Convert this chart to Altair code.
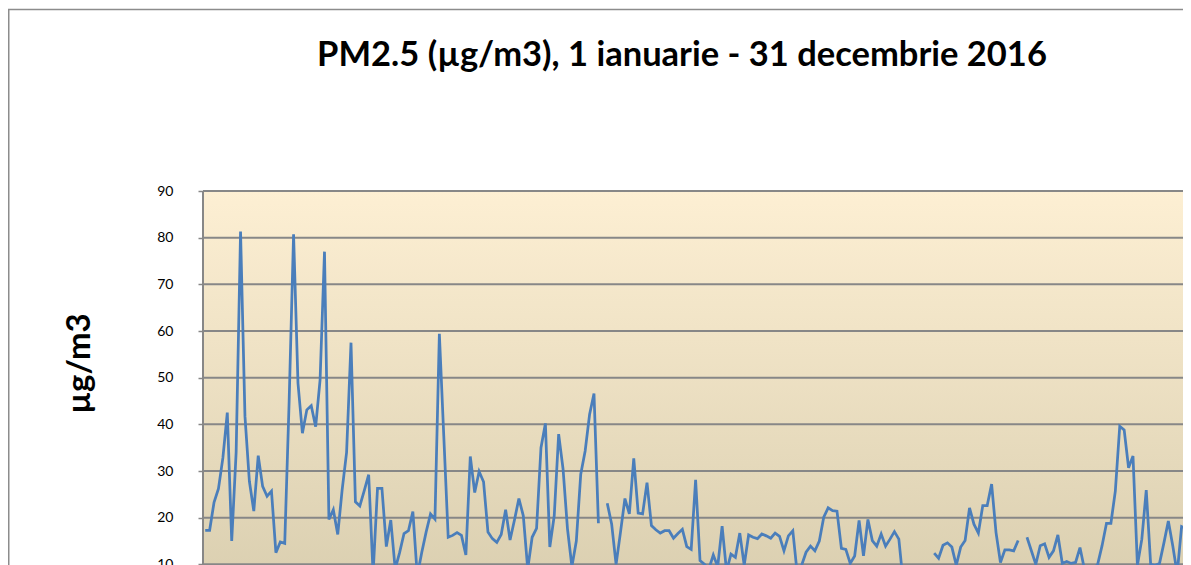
import altair as alt
import pandas as pd

# ---------------- data ----------------
title_text = "PM2.5 (µg/m3), 1 ianuarie - 31 decembrie 2016"
y_title = "µg/m3"
y_ticks = [0, 10, 20, 30, 40, 50, 60, 70, 80, 90]
n_days = 366  # 2016 is a leap year

# daily PM2.5 values from 1 January onward (only the visible part of the picture)
pm25 = [
    17.3, 17.3, 23.3, 26.2, 32.8, 42.5, 15.0, 34.0, 81.3, 41.7,
    27.8, 21.4, 33.3, 26.7, 24.6, 25.7, 12.5, 14.8, 14.5, 45.0,
    80.7, 48.8, 38.1, 43.1, 44.0, 39.5, 49.5, 77.0, 19.6, 21.7,
    16.4, 26.0, 34.0, 57.5, 23.4, 22.5, 25.8, 29.2, 8.0, 26.3,
    26.3, 13.8, 19.5, 9.0, 12.5, 16.6, 17.2, 21.3, 7.5, 12.5,
    16.9, 20.8, 19.7, 59.4, 37.5, 15.8, 16.2, 16.8, 16.2, 12.0,
    33.1, 25.4, 29.9, 27.7, 16.9, 15.5, 14.7, 16.4, 21.7, 15.2,
    19.5, 24.1, 20.4, 9.0, 15.8, 17.7, 35.0, 40.2, 13.7, 20.4,
    37.9, 30.4, 17.6, 9.5, 15.0, 29.3, 34.3, 42.1, 46.6, 18.8,
    None, 23.1, 18.6, 10.0, 16.9, 24.1, 20.8, 32.7, 21.0, 20.8,
    27.5, 18.3, 17.4, 16.7, 17.2, 17.2, 15.6, 16.6, 17.5, 13.8,
    13.2, 28.1, 10.8, 10.0, 9.0, 12.0, 9.5, 18.2, 8.5, 12.2,
    11.5, 16.7, 9.8, 16.3, 15.8, 15.5, 16.5, 16.1, 15.6, 16.7,
    16.0, 12.9, 16.1, 17.2, 8.0, 9.8, 12.6, 13.9, 12.9, 15.0,
    20.1, 22.1, 21.5, 21.4, 13.4, 13.2, 10.2, 11.8, 19.4, 11.8,
    19.6, 15.1, 13.9, 16.5, 13.9, 15.4, 17.0, 15.4, 6.0, 5.0,
    7.0, 8.0, 6.0, 7.0, None, 12.4, 11.3, 14.1, 14.6, 13.7,
    9.8, 13.7, 15.1, 22.1, 18.6, 16.7, 22.6, 22.6, 27.2, 16.8,
    10.4, 13.1, 13.1, 12.9, 15.1, None, 15.8, 12.9, 10.0, 14.0,
    14.4, 11.5, 12.9, 16.3, 10.2, 10.6, 10.2, 10.4, 13.6, 9.0,
    8.0, 9.0, 10.0, 14.0, 18.8, 18.8, 25.7, 39.6, 38.8, 30.7,
    33.2, 9.8, 15.4, 25.9, 10.0, 9.8, 10.2, 14.6, 19.3, 14.0,
    8.0, 18.1, 17.7, 16.5,
]
days = list(range(1, len(pm25) + 1))

# break the line where a day has no value
rows = []
seg = 0
for d, v in zip(days, pm25):
    if v is None:
        seg += 1
        continue
    rows.append({"day": d, "pm25": v, "seg": seg})
df = pd.DataFrame(rows)
grid_df = pd.DataFrame({"pm25": y_ticks})
one = pd.DataFrame({"k": [0]})

# ---------------- layout ----------------
FULL_W = 1617     # full plot-area width (whole year), extends past the window
FULL_H = 420      # full plot-area height (0..90)
VIEW_W = 980      # visible part of the plot area
VIEW_H = 374
PAD_L = 195
PAD_T = 183
FONT = "Lato"
GRID = "#878787"

x_scale = alt.Scale(domain=[0.5, n_days + 0.5], range=[0, FULL_W], nice=False, zero=False)
y_scale = alt.Scale(domain=[0, 90], range=[FULL_H, 0], nice=False)
y_axis = alt.Axis(
    values=y_ticks,
    title=y_title,
    grid=False,
    domain=False,
    ticks=True,
    tickSize=5,
    tickColor=GRID,
    tickWidth=1.5,
    labelFont=FONT,
    labelFontSize=14,
    labelColor="black",
    labelPadding=25,
    titleFont=FONT,
    titleFontSize=33,
    titleFontWeight="bold",
    titleColor="black",
    titleAngle=-90,
    titleAlign="center",
    titleBaseline="middle",
    titleX=-124,
    titleY=172,
)

frame = alt.Chart(one).mark_rect(filled=False, stroke="#8c8c8c", strokeWidth=1.5).encode(
    x=alt.value(-PAD_L + 0.75), x2=alt.value(FULL_W + 400),
    y=alt.value(-PAD_T + 1.5), y2=alt.value(FULL_H + 400),
)

bg = alt.Chart(one).mark_rect(
    fill=alt.LinearGradient(
        gradient="linear",
        stops=[alt.GradientStop(color="#FDEFD3", offset=0),
               alt.GradientStop(color="#D8CDAE", offset=1)],
        x1=0, x2=0, y1=0, y2=1,
    )
).encode(x=alt.value(0), x2=alt.value(FULL_W), y=alt.value(0), y2=alt.value(FULL_H))

grid = alt.Chart(grid_df).mark_rule(color=GRID, strokeWidth=2).encode(
    y=alt.Y("pm25:Q", scale=y_scale, axis=y_axis),
    x=alt.value(0), x2=alt.value(FULL_W),
)

left_border = alt.Chart(one).mark_rule(color=GRID, strokeWidth=2).encode(
    x=alt.value(0), y=alt.value(0), y2=alt.value(FULL_H),
)

line = alt.Chart(df).mark_line(color="#4A7EBB", strokeWidth=2.75).encode(
    x=alt.X("day:Q", scale=x_scale, axis=None),
    y=alt.Y("pm25:Q", scale=y_scale, axis=y_axis),
    detail="seg:N",
)

title = alt.Chart(one).mark_text(
    text=title_text, font=FONT, fontSize=34.5, fontWeight="bold", color="black",
    align="center", baseline="middle",
).encode(x=alt.value(682 - (8 + PAD_L)), y=alt.value(56 - (8 + PAD_T)))

chart = alt.layer(frame, bg, grid, left_border, line, title).properties(
    width=VIEW_W,
    height=VIEW_H,
    padding={"left": PAD_L, "top": PAD_T, "right": 0, "bottom": 0},
    autosize=alt.AutoSizeParams(type="none"),
).configure_view(strokeWidth=0).configure(background="white")

chart.save("out.html", embed_options={"renderer": "svg", "actions": False})
